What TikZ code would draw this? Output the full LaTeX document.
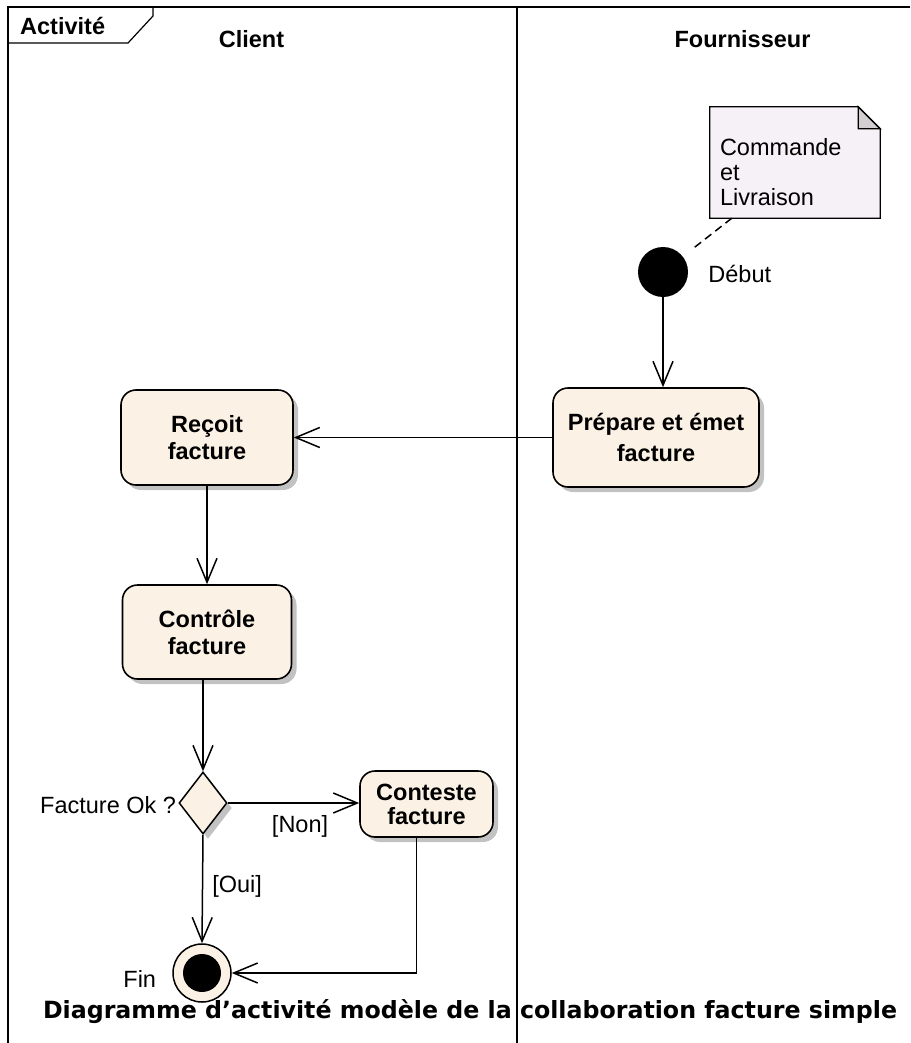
\documentclass[tikz,border=0pt]{standalone}
\usepackage{fontspec}
\setmainfont{Liberation Sans}
\newfontfamily\legendefont{DejaVu Sans}
\usepackage{tikz}
\usetikzlibrary{arrows.meta,shapes.geometric,shadows,calc,positioning}
\definecolor{fondAction}{HTML}{FBF1E4}
\definecolor{fondNote}{HTML}{F6F1F6}
\definecolor{coinNote}{HTML}{D2CED2}
\definecolor{ombre}{HTML}{C2C2C2}

\begin{document}
\begin{tikzpicture}[x=1pt,y=-1pt,
  font=\fontsize{23.5pt}{27pt}\selectfont,
  cadre/.style={line width=1.2pt},
  titre/.style={font=\fontsize{23.5pt}{27pt}\selectfont\bfseries, inner sep=0pt},
  action/.style={draw, line width=1.6pt, rounded corners=15pt, fill=fondAction, align=center,
    font=\fontsize{23.5pt}{27pt}\selectfont\bfseries,
    drop shadow={shadow xshift=5pt, shadow yshift=-5pt, fill=ombre, opacity=1}},
  decision/.style={diamond, draw, line width=1.5pt, fill=fondAction, minimum width=48pt,
    minimum height=62pt, inner sep=0pt,
    drop shadow={shadow xshift=5pt, shadow yshift=-5pt, fill=ombre, opacity=1}},
  depart/.style={circle, fill=black, minimum size=50pt, inner sep=0pt},
  arrivee/.style={circle, draw, line width=1.5pt, fill=fondAction, minimum size=58pt, inner sep=0pt,
    path picture={\fill[black] (path picture bounding box.center) circle (19pt);}},
  lbl/.style={inner sep=2pt},
  fleche/.style={line width=1.5pt, -{Straight Barb[length=24pt, width=20pt]}},
  lienNote/.style={line width=1.5pt, dash pattern=on 8pt off 5pt, shorten >=13pt}]
\useasboundingbox (0,0) rectangle (910,1043);
  \pgfmathsetmacro{\xCouloir}{517}
  \pgfmathsetmacro{\yHaut}{7}
%Cadre de l'activite avec son onglet, et les deux couloirs
\draw[cadre] (8,1043) -- (8,\yHaut) -- (910,\yHaut);
\draw[cadre] (8,43) -- (128,43) -- (153,16) -- (153,\yHaut);
\draw[cadre] (\xCouloir,\yHaut) -- (\xCouloir,1043);
\node[titre, anchor=base west] (activite) at (20,35) {Activité};
\node[titre, anchor=base] (client) at (251.5,48) {Client};
\node[titre, anchor=base] (fournisseur) at (742.5,48) {Fournisseur};
%Note (coin replie)
\node[minimum width=170pt, minimum height=111pt, inner sep=0pt] (note) at (795,162.5) {};
\filldraw[line width=1.3pt, fill=fondNote] (note.south west) -- (note.north west) -- ([xshift=-22pt]note.north east)
  -- ([yshift=-22pt]note.north east) -- (note.south east) -- cycle;
\filldraw[line width=1.3pt, fill=coinNote] ([xshift=-22pt]note.north east) -- ([xshift=-22pt,yshift=-22pt]note.north east)
  -- ([yshift=-22pt]note.north east) -- cycle;
\node[anchor=north west, align=left, inner sep=0pt, font=\fontsize{23.5pt}{25pt}\selectfont] (notetexte)
  at ([xshift=10pt,yshift=-31pt]note.north west) {Commande\\et\\Livraison};
%Noeuds
\node[depart] (debut) at (663,272) {};
\node[lbl, anchor=base west] (debutlbl) at ([xshift=18pt,yshift=-10pt]debut.east) {Début};
\node[action, minimum width=206pt, minimum height=99pt] (prepare) at (656,437.5) {Prépare et émet\\[4pt]facture};
\node[action, minimum width=172pt, minimum height=95pt] (recoit) at (207,437.5) {Reçoit\\facture};
\node[action, minimum width=169pt, minimum height=94pt] (controle) at (207,632) {Contrôle\\facture};
\node[decision] (decision) at (203,803) {};
\node[lbl, anchor=base east] (question) at ([yshift=-10pt]decision.west) {Facture Ok ?};
\node[action, minimum width=133pt, minimum height=66pt, font=\fontsize{23.5pt}{24pt}\selectfont\bfseries] (conteste)
  at (426.5,804) {Conteste\\facture};
\node[arrivee] (fin) at (202,973) {};
\node[lbl, anchor=base east] (finlbl) at ([xshift=-14pt,yshift=-14pt]fin.west) {Fin};
%Transitions
\draw[lienNote] ([xshift=22pt]note.south west) -- (debut);
\draw[fleche] (debut) -- (debut |- prepare.north);
\draw[fleche] (prepare.west) -- (recoit.east);
\draw[fleche] (recoit) -- (controle);
\draw[fleche] (controle.south -| decision.north) -- (decision.north);
\draw[fleche] (decision.east) --node[lbl, pos=.55, below, yshift=-10pt] {[Non]} (decision.east -| conteste.west);
\draw[fleche] (decision.south) --node[lbl, pos=.48, right, xshift=7pt] {[Oui]} (fin.north);
\draw[fleche] ([xshift=-10pt]conteste.south) |- (fin.east);
\node[anchor=base, font=\legendefont\bfseries\fontsize{23.7pt}{28pt}\selectfont] (legende) at (470,1018)
  {Diagramme d’activité modèle de la collaboration facture simple};
\end{tikzpicture}
\end{document}
